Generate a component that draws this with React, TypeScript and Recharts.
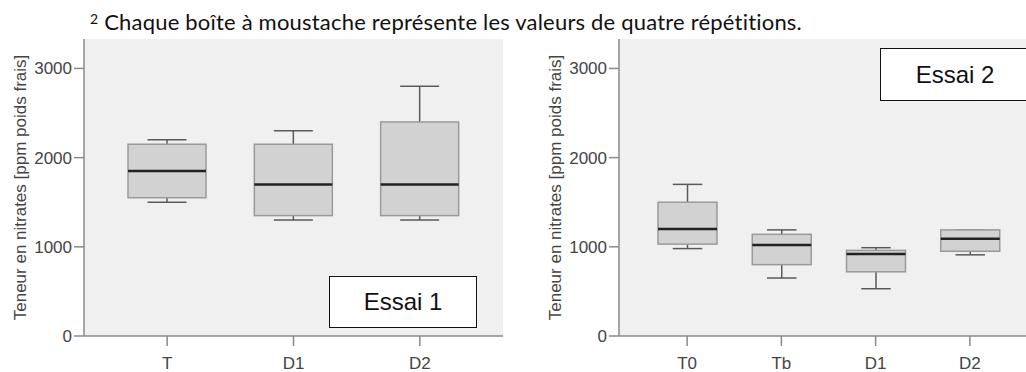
import { ComposedChart, Bar, XAxis, YAxis, CartesianGrid } from 'recharts'

// Essai 1 — nitrate content per treatment (4 replicates each)
const cats1 = ['T', 'D1', 'D2']
const min1 = [1500, 1300, 1300]
const q1s1 = [1550, 1350, 1350]
const med1 = [1850, 1700, 1700]
const q3s1 = [2150, 2150, 2400]
const max1 = [2200, 2300, 2800]

// Essai 2
const cats2 = ['T0', 'Tb', 'D1', 'D2']
const min2 = [980, 650, 530, 910]
const q1s2 = [1030, 800, 720, 950]
const med2 = [1200, 1020, 920, 1090]
const q3s2 = [1500, 1140, 960, 1190]
const max2 = [1700, 1190, 990, 1190]

const yTicks = [0, 1000, 2000, 3000]
const yMax = 3330
const yLabel = 'Teneur en nitrates [ppm poids frais]'
const noteMark = '2'
const note = ' Chaque boîte à moustache représente les valeurs de quatre répétitions.'

const buildRows = (cats: string[], mn: number[], q1: number[], md: number[], q3: number[], mx: number[]) =>
  cats.map((cat, i) => ({ cat, min: mn[i], q1: q1[i], med: md[i], q3: q3[i], max: mx[i], range: [mn[i], mx[i]] }))

const rows1 = buildRows(cats1, min1, q1s1, med1, q3s1, max1)
const rows2 = buildRows(cats2, min2, q1s2, med2, q3s2, max2)

const FONT = '"Liberation Sans", Arial, sans-serif'
const AXIS = '#8a8a8a'

// range bar spans [min, max]; the rest of the box is placed on the same pixel scale
const BoxShape = (props: any) => {
  const { x, y, width, height, payload } = props
  const top = Math.min(y, y + height)
  const h = Math.abs(height)
  const ppu = h / (payload.max - payload.min)
  const py = (v: number) => top + (payload.max - v) * ppu
  const cx = x + width / 2
  const cap = width * 0.25
  return (
    <g>
      <line x1={cx} x2={cx} y1={py(payload.max)} y2={py(payload.q3)} stroke="#5a5a5a" strokeWidth={1.5} />
      <line x1={cx} x2={cx} y1={py(payload.q1)} y2={py(payload.min)} stroke="#5a5a5a" strokeWidth={1.5} />
      <line x1={cx - cap} x2={cx + cap} y1={py(payload.max)} y2={py(payload.max)} stroke="#5a5a5a" strokeWidth={1.5} />
      <line x1={cx - cap} x2={cx + cap} y1={py(payload.min)} y2={py(payload.min)} stroke="#5a5a5a" strokeWidth={1.5} />
      <rect x={x} y={py(payload.q3)} width={width} height={py(payload.q1) - py(payload.q3)}
        fill="#d2d2d2" stroke="#9a9a9a" strokeWidth={1.5} />
      <line x1={x} x2={x + width} y1={py(payload.med)} y2={py(payload.med)} stroke="#222" strokeWidth={2.5} />
    </g>
  )
}

interface BoxChartProps {
  data: any[]
  width: number
  marginRight: number
  yAxisWidth: number
  labelDx: number
  pad: number
  barSize: number
}

function BoxChart({ data, width, marginRight, yAxisWidth, labelDx, pad, barSize }: BoxChartProps) {
  const tickStyle = { fill: '#444', fontSize: 17, fontFamily: FONT }
  return (
    <ComposedChart width={width} height={372} data={data}
      margin={{ top: 39, right: marginRight, bottom: 0, left: 0 }}>
      <CartesianGrid fill="#f0f0f0" stroke="none" />
      <XAxis dataKey="cat" height={36} padding={{ left: pad, right: pad }}
        tick={tickStyle} tickSize={10} tickMargin={11}
        tickLine={{ stroke: AXIS, strokeWidth: 1.5 }} axisLine={{ stroke: AXIS, strokeWidth: 1.5 }} />
      <XAxis xAxisId="top" dataKey="cat" orientation="top" height={0} tick={false} tickLine={false}
        axisLine={{ stroke: AXIS, strokeWidth: 1.5 }} />
      <YAxis type="number" domain={[0, yMax]} ticks={yTicks} width={yAxisWidth}
        tick={tickStyle} tickSize={10} interval={0}
        tickLine={{ stroke: AXIS, strokeWidth: 1.5 }} axisLine={{ stroke: AXIS, strokeWidth: 1.5 }}
        label={{ value: yLabel, angle: -90, position: 'center', dx: labelDx, fill: '#444', fontSize: 17, fontFamily: FONT }} />
      <YAxis yAxisId="right" orientation="right" type="number" domain={[0, yMax]} width={0}
        tick={false} tickLine={false} axisLine={{ stroke: AXIS, strokeWidth: 1.5 }} />
      <Bar dataKey="range" barSize={barSize} shape={BoxShape} isAnimationActive={false} />
    </ComposedChart>
  )
}

const tagStyle = (left: number, top: number, w: number, h: number): React.CSSProperties => ({
  position: 'absolute', left, top, width: w, height: h, boxSizing: 'border-box',
  border: '1.5px solid #111', background: '#fff', display: 'flex', alignItems: 'center',
  justifyContent: 'center', fontFamily: FONT, fontSize: 24, color: '#111',
})

export default function App() {
  return (
    <div style={{ position: 'fixed', left: 0, top: 0, width: 1026, height: 372, overflow: 'hidden', background: '#fff' }}>
      <svg width={1026} height={40} style={{ position: 'absolute', left: 0, top: 0 }}>
        <text x={90} y={30} fontFamily="Lato, 'Open Sans', sans-serif" fontSize={22} letterSpacing={0.2} fill="#111">
          <tspan fontSize={14} dy={-6}>{noteMark}</tspan>
          <tspan dy={6}>{note}</tspan>
        </text>
      </svg>
      <div style={{ position: 'absolute', left: 0, top: 0 }}>
        <BoxChart data={rows1} width={510} marginRight={7} yAxisWidth={84} labelDx={-22} pad={20} barSize={78} />
      </div>
      <div style={{ position: 'absolute', left: 510, top: 0 }}>
        <BoxChart data={rows2} width={540} marginRight={12} yAxisWidth={109} labelDx={-9.5} pad={21} barSize={59} />
      </div>
      <div style={tagStyle(329, 276, 148, 52)}>Essai 1</div>
      <div style={tagStyle(880, 48, 150, 53)}>Essai 2</div>
    </div>
  )
}
